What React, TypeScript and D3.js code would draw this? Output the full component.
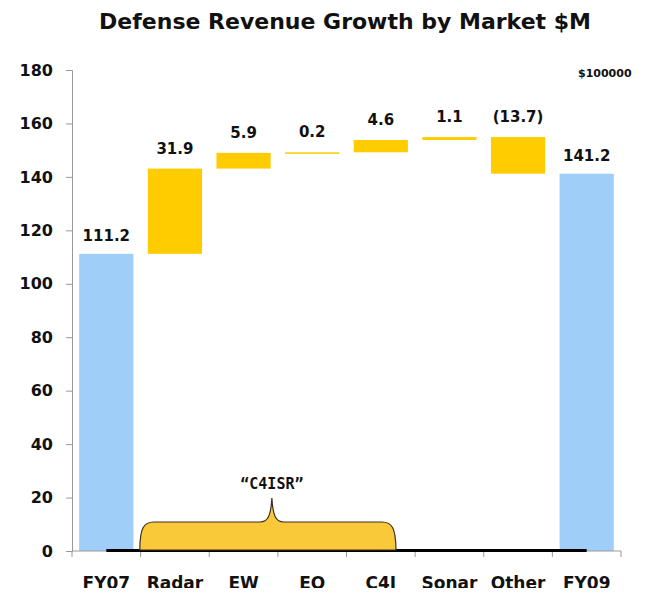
import React from "react";
import * as d3 from "d3";

const categories = ["FY07", "Radar", "EW", "EO", "C4I", "Sonar", "Other", "FY09"];
const deltas = [111.2, 31.9, 5.9, 0.2, 4.6, 1.1, -13.7, 141.2];
const labels = ["111.2", "31.9", "5.9", "0.2", "4.6", "1.1", "(13.7)", "141.2"];
const yTicks = [0, 20, 40, 60, 80, 100, 120, 140, 160, 180];
const bracketGroup = ["Radar", "EW", "EO", "C4I"];

const FONT = "Tahoma, 'DejaVu Sans', Verdana, sans-serif";

const App = () => {
  const ref = React.useRef<SVGSVGElement>(null);

  React.useEffect(() => {
    const svg = d3.select(ref.current);
    svg.selectAll("*").remove();

    const width = 645,
      height = 596;
    const margin = { left: 72, right: 24, top: 70, bottom: 45 };

    // compute start/end for waterfall steps
    let run = 0;
    const data = categories.map((c, i) => {
      const total = i === 0 || i === categories.length - 1;
      let lo: number, hi: number;
      if (total) {
        lo = 0;
        hi = deltas[i];
        run = deltas[i];
      } else {
        const next = run + deltas[i];
        lo = Math.min(run, next);
        hi = Math.max(run, next);
        run = next;
      }
      return { c, lo, hi, total, label: labels[i] };
    });

    const x = d3.scaleBand()
      .domain(categories)
      .range([margin.left, width - margin.right])
      .paddingInner(0.21)
      .paddingOuter(0.105);

    const y = d3.scaleLinear()
      .domain([0, 180])
      .range([height - margin.bottom, margin.top]);

    svg.append("rect").attr("width", width).attr("height", height).attr("fill", "#fff");

    // title
    svg.append("text")
      .attr("x", 345)
      .attr("y", 29)
      .attr("text-anchor", "middle")
      .attr("font-family", FONT)
      .attr("font-weight", "bold")
      .attr("font-size", 22)
      .attr("fill", "#111")
      .text("Defense Revenue Growth by Market $M");

    // y axis
    const yAxis = svg.append("g")
      .attr("transform", `translate(${margin.left},0)`)
      .call(d3.axisLeft(y).tickValues(yTicks).tickSize(6).tickPadding(13));
    yAxis.select(".domain").attr("stroke", "#999");
    yAxis.selectAll(".tick line").attr("stroke", "#999");
    yAxis.selectAll("text")
      .attr("font-family", FONT)
      .attr("font-weight", "bold")
      .attr("font-size", 16)
      .attr("fill", "#111");

    // bars
    svg.append("g")
      .selectAll("rect")
      .data(data)
      .join("rect")
      .attr("x", (d) => x(d.c)!)
      .attr("y", (d) => y(d.hi))
      .attr("width", x.bandwidth())
      .attr("height", (d) => Math.max(1.5, y(d.lo) - y(d.hi)))
      .attr("fill", (d) => (d.total ? "#9fcff8" : "#ffcc00"));

    // value labels
    svg.append("g")
      .selectAll("text")
      .data(data)
      .join("text")
      .attr("x", (d) => x(d.c)! + x.bandwidth() / 2)
      .attr("y", (d) => y(d.hi) - (d.total ? 13 : 15))
      .attr("text-anchor", "middle")
      .attr("font-family", FONT)
      .attr("font-weight", "bold")
      .attr("font-size", 15)
      .attr("fill", "#111")
      .text((d) => d.label);

    // x axis
    const x0 = x.range()[0];
    const x1 = x.range()[1];
    const step = x.step();
    const xg = svg.append("g");
    xg.append("line")
      .attr("x1", x0).attr("x2", x1)
      .attr("y1", y(0)).attr("y2", y(0))
      .attr("stroke", "#999");
    xg.selectAll("line.tk")
      .data(d3.range(categories.length + 1))
      .join("line")
      .attr("class", "tk")
      .attr("x1", (i) => x0 + i * step)
      .attr("x2", (i) => x0 + i * step)
      .attr("y1", y(0))
      .attr("y2", y(0) + 6)
      .attr("stroke", "#999");
    xg.selectAll("text")
      .data(categories)
      .join("text")
      .attr("x", (c) => x(c)! + x.bandwidth() / 2)
      .attr("y", y(0) + 38)
      .attr("text-anchor", "middle")
      .attr("font-family", FONT)
      .attr("font-weight", "bold")
      .attr("font-size", 17)
      .attr("fill", "#111")
      .text((c) => c);

    // black baseline
    svg.append("line")
      .attr("x1", x(categories[0])! + x.bandwidth() / 2)
      .attr("x2", x(categories[categories.length - 1])! + x.bandwidth() / 2)
      .attr("y1", y(0) - 0.5)
      .attr("y2", y(0) - 0.5)
      .attr("stroke", "#000")
      .attr("stroke-width", 3);

    // C4ISR brace
    const bl = x(bracketGroup[0])! - 8;
    const br = x(bracketGroup[bracketGroup.length - 1])! + x.bandwidth() - 12;
    const bm = (bl + br) / 2 + 4;
    const by = y(0) - 1;
    const top = by - 28;
    const peak = by - 52;
    const p = d3.path();
    p.moveTo(bl, by);
    p.bezierCurveTo(bl, top + 6, bl + 4, top, bl + 14, top);
    p.lineTo(bm - 12, top);
    p.bezierCurveTo(bm - 4, top, bm - 1, top - 6, bm, peak);
    p.bezierCurveTo(bm + 1, top - 6, bm + 4, top, bm + 12, top);
    p.lineTo(br - 14, top);
    p.bezierCurveTo(br - 4, top, br, top + 6, br, by);
    p.closePath();
    svg.append("path")
      .attr("d", p.toString())
      .attr("fill", "#f9c93a")
      .attr("stroke", "#3a3020")
      .attr("stroke-width", 1.2);
    svg.append("text")
      .attr("x", bm)
      .attr("y", peak - 9)
      .attr("text-anchor", "middle")
      .attr("font-family", "'DejaVu Sans Mono', monospace")
      .attr("font-weight", "bold")
      .attr("font-size", 15)
      .attr("fill", "#111")
      .text("\u201CC4ISR\u201D");

    // garbled label in top-right corner (overprinted in the source)
    svg.append("text")
      .attr("x", 578)
      .attr("y", 77)
      .attr("font-family", FONT)
      .attr("font-weight", "bold")
      .attr("font-size", 11)
      .attr("fill", "#111")
      .text("$100000");
  }, []);

  return <svg ref={ref} width={645} height={596} style={{ display: "block", margin: "-8px" }}></svg>;
};

export default App;
